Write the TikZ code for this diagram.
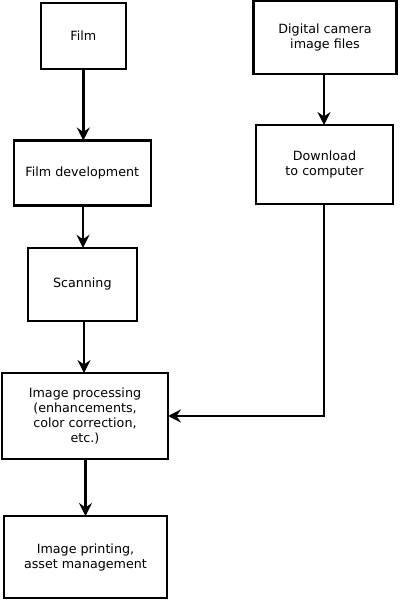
\documentclass[tikz,border=0pt]{standalone}
\usepackage{fontspec}
\setmainfont{DejaVu Sans}
\usetikzlibrary{arrows.meta}
\begin{document}
\begin{tikzpicture}[x=1pt,y=-1pt,
  box/.style={draw=black, line width=2.4pt, rectangle, inner sep=0pt, outer sep=0pt,
    align=center, font=\fontsize{12.7}{15}\selectfont},
  conn/.style={line width=2.4pt, -{Stealth[length=13pt,width=13pt,inset=4.5pt]}}]
\useasboundingbox (0,0) rectangle (399,601);
\node[box, minimum width=85pt, minimum height=66pt] (film) at (83.3,36) {Film};
\node[box, minimum width=137pt, minimum height=65pt] (dev) at (82.3,173) {Film development};
\node[box, minimum width=109pt, minimum height=73pt] (scan) at (82.3,284.3) {Scanning};
\node[box, minimum width=166pt, minimum height=86pt] (proc) at (85,416) {Image processing\\(enhancements,\\color correction,\\etc.)};
\node[box, minimum width=163pt, minimum height=82pt] (print) at (85.5,557) {Image printing,\\asset management};
\node[box, minimum width=143pt, minimum height=73pt] (cam) at (325,37.5) {Digital camera\\image files};
\node[box, minimum width=137pt, minimum height=79pt] (dl) at (324.5,164.5) {Download\\to computer};
\draw[conn] (film.south) -- (film.south |- dev.north);
\draw[conn] ([xshift=0.7pt]dev.south) -- ([xshift=0.7pt]dev.south |- scan.north);
\draw[conn] ([xshift=1.7pt]scan.south) -- ([xshift=1.7pt]scan.south |- proc.north);
\draw[conn] ([xshift=0.5pt]proc.south) -- ([xshift=0.5pt]proc.south |- print.north);
\draw[conn] ([xshift=-1pt]cam.south) -- ([xshift=-1pt]cam.south |- dl.north);
\draw[conn] ([xshift=-0.8pt]dl.south) |- (proc.east);
\end{tikzpicture}
\end{document}
